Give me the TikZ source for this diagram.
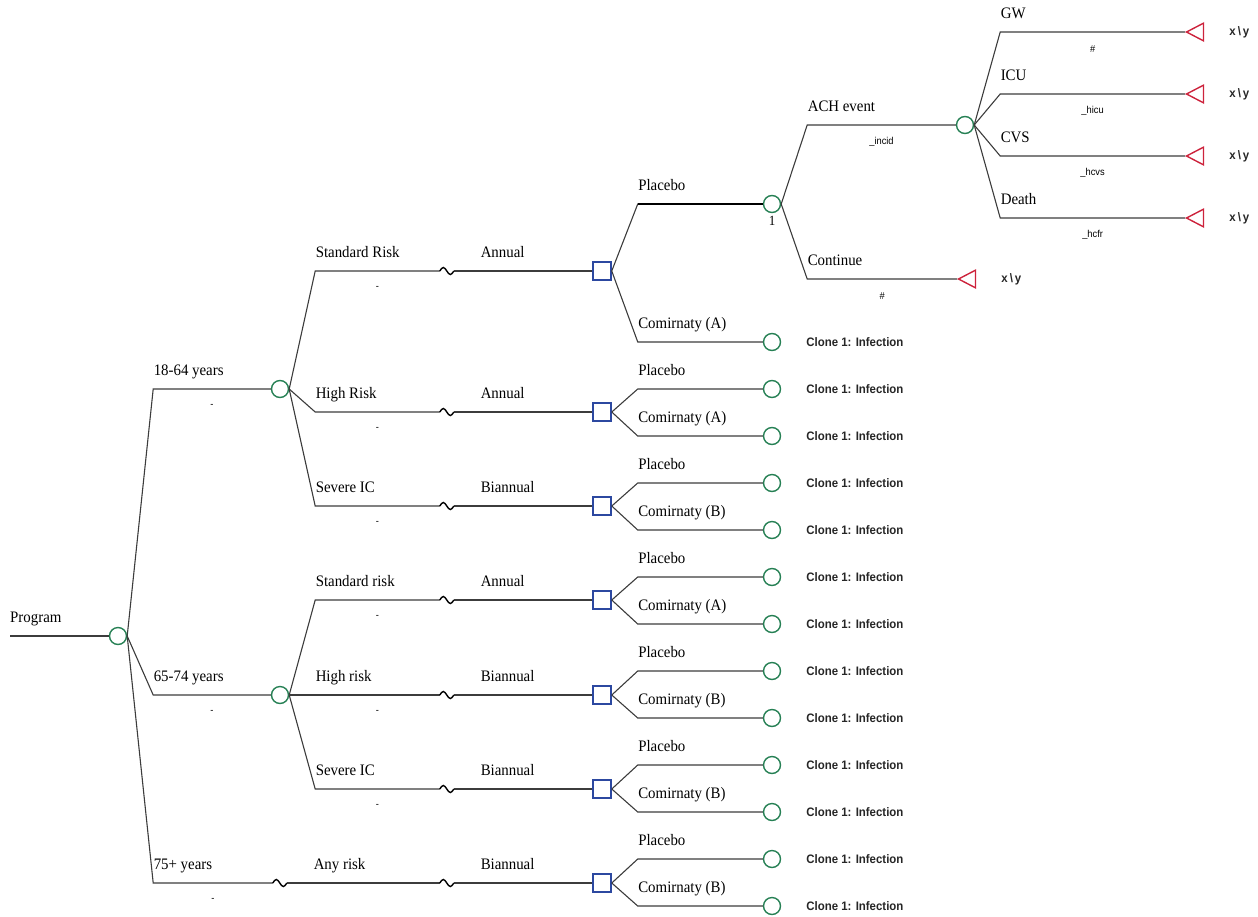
\documentclass[tikz,border=0pt]{standalone}
\usepackage{fontspec}
\setmainfont{Liberation Serif}[FakeStretch=0.93]
\setsansfont{Liberation Sans}[FakeStretch=0.93]
\usetikzlibrary{calc,positioning,shapes.geometric}

\definecolor{ChanceGreen}{RGB}{38,128,84}
\definecolor{DecisionBlue}{RGB}{44,72,160}
\definecolor{TerminalRed}{RGB}{205,35,60}
\definecolor{BranchGray}{RGB}{60,60,60}

\begin{document}
\begin{tikzpicture}
  [x=1pt, y=-1pt,
   branch/.style={draw=BranchGray, line width=1.1pt},
   optimal/.style={draw=black, line width=2.8pt},
   chance/.style={draw=ChanceGreen, circle, line width=1.4pt, inner sep=0pt, minimum size=17pt},
   decision/.style={draw=DecisionBlue, rectangle, line width=1.5pt, inner sep=0pt, minimum size=18pt},
   terminal/.style={draw=TerminalRed, isosceles triangle, shape border rotate=180,
     isosceles triangle apex angle=55, line width=1.4pt, inner sep=0pt, minimum height=17pt, anchor=apex},
   wave/.style={inner sep=0pt, minimum width=14pt, minimum height=8pt},
   wave line/.style={draw=black, line width=1.4pt},
   branch label/.style={font=\fontsize{16}{18}\selectfont, inner sep=0pt, anchor=base west, yshift=14pt},
   prob label/.style={font=\sffamily\fontsize{10}{12}\selectfont, inner sep=0pt, yshift=-17pt},
   clone text/.style={font=\sffamily\bfseries\fontsize{12.3}{15}\selectfont, text=black!85, inner sep=0pt},
   payoff/.style={font=\sffamily\bfseries\fontsize{12.3}{15}\selectfont, text=black!85, inner sep=0pt},
   tree edge/.style 2 args={branch,
     to path={(\tikztostart.east) -- ($(\tikztostart.east |- \tikztotarget)+(26pt,0)$)
       node [branch label, name=\tikztotarget-name] {#1}
       -- (\tikztotarget) node [prob label, midway, name=\tikztotarget-prob] {#2}}}]

  \useasboundingbox (0,0) rectangle (1258,916);

  % root and age groups
  \coordinate (start) at (10,636);
  \node [chance] (root) at (118,636) {};
  \draw [branch] (start) -- (root);
  \node [branch label] (start-name) at (start) {Program};

  \node [chance] (age-1) at (280,389) {};
  \node [chance] (age-2) at (280,695) {};
  \node [wave]   (age-3) at (280,883) {};

  % risk groups (trackers)
  \node [wave] (wave-1-1) at (447,271) {};
  \node [wave] (wave-1-2) at (447,412) {};
  \node [wave] (wave-1-3) at (447,506) {};
  \node [wave] (wave-2-1) at (447,600) {};
  \node [wave] (wave-2-2) at (447,695) {};
  \node [wave] (wave-2-3) at (447,789) {};
  \node [wave] (wave-3-1) at (447,883) {};

  % decisions
  \node [decision] (dec-1-1) at (602,271) {};
  \node [decision] (dec-1-2) at (602,412) {};
  \node [decision] (dec-1-3) at (602,506) {};
  \node [decision] (dec-2-1) at (602,600) {};
  \node [decision] (dec-2-2) at (602,695) {};
  \node [decision] (dec-2-3) at (602,789) {};
  \node [decision] (dec-3-1) at (602,883) {};

  % strategies
  \node [chance] (ch-1-1-1) at (772,204) {};
  \node [chance] (ch-1-1-2) at (772,342) {};
  \node [chance] (ch-1-2-1) at (772,389) {};
  \node [chance] (ch-1-2-2) at (772,436) {};
  \node [chance] (ch-1-3-1) at (772,483) {};
  \node [chance] (ch-1-3-2) at (772,530) {};
  \node [chance] (ch-2-1-1) at (772,577) {};
  \node [chance] (ch-2-1-2) at (772,624) {};
  \node [chance] (ch-2-2-1) at (772,671) {};
  \node [chance] (ch-2-2-2) at (772,718) {};
  \node [chance] (ch-2-3-1) at (772,765) {};
  \node [chance] (ch-2-3-2) at (772,812) {};
  \node [chance] (ch-3-1-1) at (772,859) {};
  \node [chance] (ch-3-1-2) at (772,906) {};

  % events
  \node [chance]   (ch-ach)    at (965,125) {};
  \node [terminal] (term-cont) at (957,279) {};
  \node [terminal] (term-gw)    at (1185,32) {};
  \node [terminal] (term-icu)   at (1185,94) {};
  \node [terminal] (term-cvs)   at (1185,156) {};
  \node [terminal] (term-death) at (1185,218) {};

  \path (root) edge [tree edge={18-64 years}{-}] (age-1)
               edge [tree edge={65-74 years}{-}] (age-2)
               edge [tree edge={75+ years}{-}] (age-3);

  \path (age-1) edge [tree edge={Standard Risk}{-}] (wave-1-1)
                edge [tree edge={High Risk}{-}] (wave-1-2)
                edge [tree edge={Severe IC}{-}] (wave-1-3);
  \path (age-2) edge [tree edge={Standard risk}{-}] (wave-2-1)
                edge [tree edge={High risk}{-}] (wave-2-2)
                edge [tree edge={Severe IC}{-}] (wave-2-3);
  \path (age-3) edge [tree edge={Any risk}{}] (wave-3-1);

  \path (wave-1-1) edge [tree edge={Annual}{}] (dec-1-1);
  \path (wave-1-2) edge [tree edge={Annual}{}] (dec-1-2);
  \path (wave-1-3) edge [tree edge={Biannual}{}] (dec-1-3);
  \path (wave-2-1) edge [tree edge={Annual}{}] (dec-2-1);
  \path (wave-2-2) edge [tree edge={Biannual}{}] (dec-2-2);
  \path (wave-2-3) edge [tree edge={Biannual}{}] (dec-2-3);
  \path (wave-3-1) edge [tree edge={Biannual}{}] (dec-3-1);

  \foreach \w in {age-3,wave-1-1,wave-1-2,wave-1-3,wave-2-1,wave-2-2,wave-2-3,wave-3-1}
    \draw [wave line] (\w.west) sin ++(3.5pt,3.5pt) cos ++(3.5pt,-3.5pt)
                                sin ++(3.5pt,-3.5pt) cos ++(3.5pt,3.5pt);

  \path (dec-1-1) edge [tree edge={Placebo}{}] (ch-1-1-1)
                  edge [tree edge={Comirnaty (A)}{}] (ch-1-1-2);
  \path (dec-1-2) edge [tree edge={Placebo}{}] (ch-1-2-1)
                  edge [tree edge={Comirnaty (A)}{}] (ch-1-2-2);
  \path (dec-1-3) edge [tree edge={Placebo}{}] (ch-1-3-1)
                  edge [tree edge={Comirnaty (B)}{}] (ch-1-3-2);
  \path (dec-2-1) edge [tree edge={Placebo}{}] (ch-2-1-1)
                  edge [tree edge={Comirnaty (A)}{}] (ch-2-1-2);
  \path (dec-2-2) edge [tree edge={Placebo}{}] (ch-2-2-1)
                  edge [tree edge={Comirnaty (B)}{}] (ch-2-2-2);
  \path (dec-2-3) edge [tree edge={Placebo}{}] (ch-2-3-1)
                  edge [tree edge={Comirnaty (B)}{}] (ch-2-3-2);
  \path (dec-3-1) edge [tree edge={Placebo}{}] (ch-3-1-1)
                  edge [tree edge={Comirnaty (B)}{}] (ch-3-1-2);

  % optimal strategy
  \draw [optimal] ($(dec-1-1.east |- ch-1-1-1)+(26pt,0)$) -- (ch-1-1-1);
  \node [font=\fontsize{14}{16}\selectfont, inner sep=0pt, below=3pt of ch-1-1-1] (ch-1-1-1-index) {1};

  \path (ch-1-1-1) edge [tree edge={ACH event}{\_incid}] (ch-ach)
                   edge [tree edge={Continue}{\#}] (term-cont);
  \path (ch-ach) edge [tree edge={GW}{\#}] (term-gw)
                 edge [tree edge={ICU}{\_hicu}] (term-icu)
                 edge [tree edge={CVS}{\_hcvs}] (term-cvs)
                 edge [tree edge={Death}{\_hcfr}] (term-death);

  \foreach \t in {term-cont,term-gw,term-icu,term-cvs,term-death}
    \node [payoff, right=25pt of \t] (\t-payoff) {x\kern2pt\textbackslash\kern2pt y};

  \foreach \c in {ch-1-1-2,ch-1-2-1,ch-1-2-2,ch-1-3-1,ch-1-3-2,ch-2-1-1,ch-2-1-2,
                  ch-2-2-1,ch-2-2-2,ch-2-3-1,ch-2-3-2,ch-3-1-1,ch-3-1-2}
    \node [clone text, right=25pt of \c] (\c-clone) {Clone 1: Infection};
\end{tikzpicture}
\end{document}
